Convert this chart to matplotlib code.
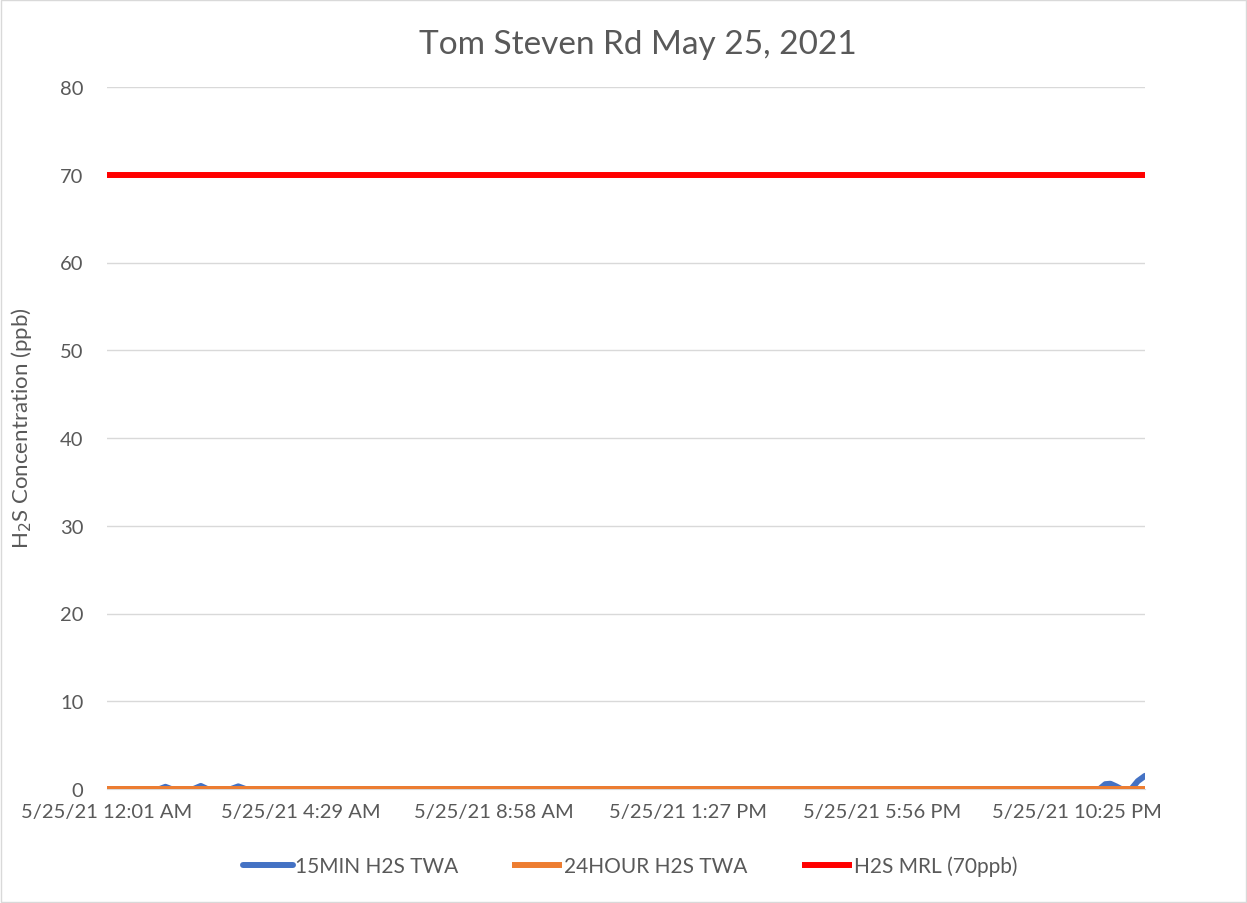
import matplotlib
matplotlib.use("Agg")
import matplotlib.pyplot as plt
from matplotlib.patches import Rectangle
import datetime as dt

plt.rcParams['font.family'] = ['Lato', 'DejaVu Sans']

title = "Tom Steven Rd May 25, 2021"
ylabel = "H$_2$S Concentration (ppb)"

# Time axis (minute resolution, 5/25/21 12:01 AM -> 5/26/21 12:00 AM)
start_time = "2021-05-25 00:01"
end_time = "2021-05-26 00:00"
tick_labels = ["5/25/21 12:01 AM", "5/25/21 4:29 AM", "5/25/21 8:58 AM",
               "5/25/21 1:27 PM", "5/25/21 5:56 PM", "5/25/21 10:25 PM"]
tick_times = ["2021-05-25 00:01", "2021-05-25 04:29", "2021-05-25 08:58",
              "2021-05-25 13:27", "2021-05-25 17:56", "2021-05-25 22:25"]

# 15-minute TWA (ppb), read at key times
twa15_times = ["2021-05-25 00:01", "2021-05-25 01:14", "2021-05-25 01:22", "2021-05-25 01:30",
               "2021-05-25 02:01", "2021-05-25 02:11", "2021-05-25 02:20",
               "2021-05-25 02:53", "2021-05-25 03:03", "2021-05-25 03:13",
               "2021-05-25 22:57", "2021-05-25 23:05", "2021-05-25 23:12", "2021-05-25 23:20",
               "2021-05-25 23:27", "2021-05-25 23:41", "2021-05-25 23:50", "2021-05-26 00:00"]
twa15_vals = [0.0, 0.0, 0.25, 0.0,
              0.0, 0.35, 0.0,
              0.0, 0.3, 0.0,
              0.0, 0.55, 0.6, 0.3,
              0.0, 0.0, 0.9, 1.5]

# 24-hour TWA (ppb)
twa24_times = ["2021-05-25 00:01", "2021-05-26 00:00"]
twa24_vals = [0.0, 0.0]

# MRL (ppb)
mrl_times = ["2021-05-25 00:01", "2021-05-26 00:00"]
mrl_vals = [70, 70]

def to_dt(lst):
    return [dt.datetime.strptime(s, "%Y-%m-%d %H:%M") for s in lst]

fig = plt.figure(figsize=(12.47, 9.04), dpi=100)
ax = fig.add_axes([107/1247, 1-790/904, (1145-107)/1247, (790-88)/904])

grey = "#595959"
blue = "#4472C4"
orange = "#ED7D31"
red = "#FF0000"

ax.plot(to_dt(twa15_times), twa15_vals, color=blue, lw=4.3, solid_capstyle='round',
        solid_joinstyle='round', label="15MIN H2S TWA", zorder=3)
ax.plot(to_dt(twa24_times), twa24_vals, color=orange, lw=4.3, solid_capstyle='butt',
        label="24HOUR H2S TWA", zorder=4)
ax.plot(to_dt(mrl_times), mrl_vals, color=red, lw=4.3, solid_capstyle='butt',
        label="H2S MRL (70ppb)", zorder=4)

ax.set_xlim(to_dt([start_time])[0], to_dt([end_time])[0])
ax.set_ylim(0, 80)
ax.set_yticks(range(0, 81, 10))
ax.set_xticks(to_dt(tick_times))
ax.set_xticklabels(tick_labels)
ax.tick_params(axis='both', length=0, labelsize=14.5, colors=grey)
ax.tick_params(axis='x', pad=10)
ax.tick_params(axis='y', pad=17)
ax.grid(axis='y', color="#D9D9D9", lw=1.0)
ax.set_axisbelow(True)
for s in ['left', 'right', 'top']:
    ax.spines[s].set_visible(False)
ax.spines['bottom'].set_color("#D9D9D9")

fig.text(638/1247, 1-45/904, title, ha='center', va='center', fontsize=24, color=grey)
fig.text(22/1247, 1-428/904, ylabel, ha='center', va='center', rotation=90,
         fontsize=16, color=grey)

leg = fig.legend(loc='center', bbox_to_anchor=(630/1247, 1-867/904), ncol=3,
                 frameon=False, fontsize=15, handlelength=2.4, columnspacing=2.6,
                 handletextpad=0.1)
for t in leg.get_texts():
    t.set_color(grey)

fig.patches.append(Rectangle((0.001, 0.001), 0.998, 0.998, transform=fig.transFigure,
                             fill=False, edgecolor="#D9D9D9", lw=1.0))

fig.savefig("out.png", dpi=100, facecolor="white")
